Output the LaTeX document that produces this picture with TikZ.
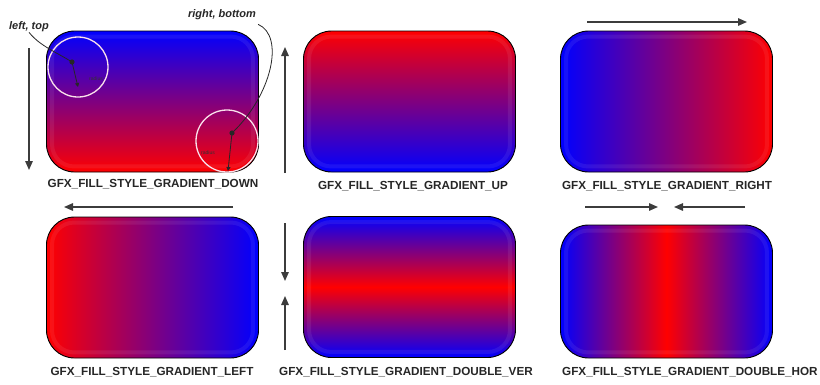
\documentclass[tikz,border=0pt]{standalone}
\usepackage{fontspec}
\setmainfont{Liberation Sans}
\usetikzlibrary{arrows.meta}
\definecolor{gfxblue}{RGB}{0,0,255}
\definecolor{gfxred}{RGB}{255,0,0}
\definecolor{arrowgray}{RGB}{60,60,60}
\definecolor{lensring}{RGB}{250,225,235}
\begin{document}
\begin{tikzpicture}[x=1pt,y=-1pt,
  panel/.style={rectangle, rounded corners=28pt, draw=black, line width=0.9pt,
    minimum width=212pt, minimum height=141pt, inner sep=0pt},
  caption/.style={font=\fontsize{11.7}{12}\selectfont\bfseries, text=black!85, inner sep=0pt},
  flow/.style={draw=arrowgray, line width=1.4pt, -{Triangle[length=9pt,width=7.5pt]}},
  lens/.style={circle, draw=lensring, line width=1.3pt, inner sep=0pt},
  tag/.style={font=\fontsize{11}{12}\selectfont\bfseries\itshape, text=black!85, inner sep=0pt},
  tiny/.style={font=\fontsize{5}{6}\selectfont, text=black!80, inner sep=0pt},
  pointer/.style={draw=black!85, line width=0.8pt},
  bevel/.style={draw=white, draw opacity=0.07, line width=4pt, rounded corners=22pt}]

\useasboundingbox (0,0) rectangle (820,384);

% ---- six gradient panels ----
\node[panel, top color=gfxblue, bottom color=gfxred] (down) at (152.5,101.5) {};
\node[panel, top color=gfxred, bottom color=gfxblue] (up) at (409.5,101.5) {};
\node[panel, left color=gfxblue, right color=gfxred] (right) at (666.5,101.5) {};
\node[panel, left color=gfxred, right color=gfxblue] (left) at (152.5,287.5) {};
\node[panel, top color=gfxblue, bottom color=gfxblue, middle color=gfxred] (dver) at (409.5,287) {};
\node[panel, minimum height=133pt, left color=gfxblue, right color=gfxblue, middle color=gfxred] (dhor) at (666.5,291.5) {};

% soft inner bevel
\foreach \p in {down,up,right,left,dver,dhor}{
  \draw[bevel] ([xshift=6pt,yshift=-6pt]\p.north west) rectangle ([xshift=-6pt,yshift=6pt]\p.south east);
}

% ---- captions ----
\node[caption] (capdown) at (153,184) {GFX\_FILL\_STYLE\_GRADIENT\_DOWN};
\node[caption] (capup) at (413,186) {GFX\_FILL\_STYLE\_GRADIENT\_UP};
\node[caption] (capright) at (667,186) {GFX\_FILL\_STYLE\_GRADIENT\_RIGHT};
\node[caption] (capleft) at (152,372) {GFX\_FILL\_STYLE\_GRADIENT\_LEFT};
\node[caption] (capdver) at (406,372) {GFX\_FILL\_STYLE\_GRADIENT\_DOUBLE\_VER};
\node[caption, anchor=west] (capdhor) at (562,372) {GFX\_FILL\_STYLE\_GRADIENT\_DOUBLE\_HOR};

% ---- direction arrows ----
\coordinate (d1) at (29,48);   \coordinate (d2) at (29,170);
\coordinate (u1) at (285,173); \coordinate (u2) at (285,47);
\coordinate (r1) at (587,22);  \coordinate (r2) at (747,22);
\coordinate (l1) at (233,207); \coordinate (l2) at (64,207);
\coordinate (vd1) at (285,223); \coordinate (vd2) at (285,281);
\coordinate (vu1) at (285,350); \coordinate (vu2) at (285,296);
\coordinate (hr1) at (585,207); \coordinate (hr2) at (658,207);
\coordinate (hl1) at (745,207); \coordinate (hl2) at (674,207);
\draw[flow] (d1) -- (d2);
\draw[flow] (u1) -- (u2);
\draw[flow] (r1) -- (r2);
\draw[flow] (l1) -- (l2);
\draw[flow] (vd1) -- (vd2);
\draw[flow] (vu1) -- (vu2);
\draw[flow] (hr1) -- (hr2);
\draw[flow] (hl1) -- (hl2);

% ---- corner annotations on the first panel ----
\node[lens, minimum size=60pt] (lt) at (78,67) {};
\node[lens, minimum size=62pt] (rb) at (227,141) {};

\coordinate (ltdot) at (72,62);
\coordinate (ltend) at (78,87);
\fill[black!85] (ltdot) circle (2.6pt);
\draw[pointer, -{Triangle[length=4pt,width=4pt]}] (ltdot) -- (ltend);
\node[tiny] (ltrad) at (96,79) {radius};

\coordinate (rbdot) at (232,133);
\coordinate (rbend) at (228,171);
\fill[black!85] (rbdot) circle (2.6pt);
\draw[pointer, -{Triangle[length=4pt,width=4pt]}] (rbdot) -- (rbend);
\node[tiny] (rbrad) at (208,153) {radius};

\node[tag] (lttag) at (29,27) {left, top};
\node[tag] (rbtag) at (222,15) {right, bottom};
\draw[pointer] (lttag.south) .. controls (40,46) and (56,52) .. (ltdot);
\draw[pointer] (rbtag.south east) ++(2,4) .. controls (285,36) and (272,95) .. (rbdot);

\end{tikzpicture}
\end{document}
